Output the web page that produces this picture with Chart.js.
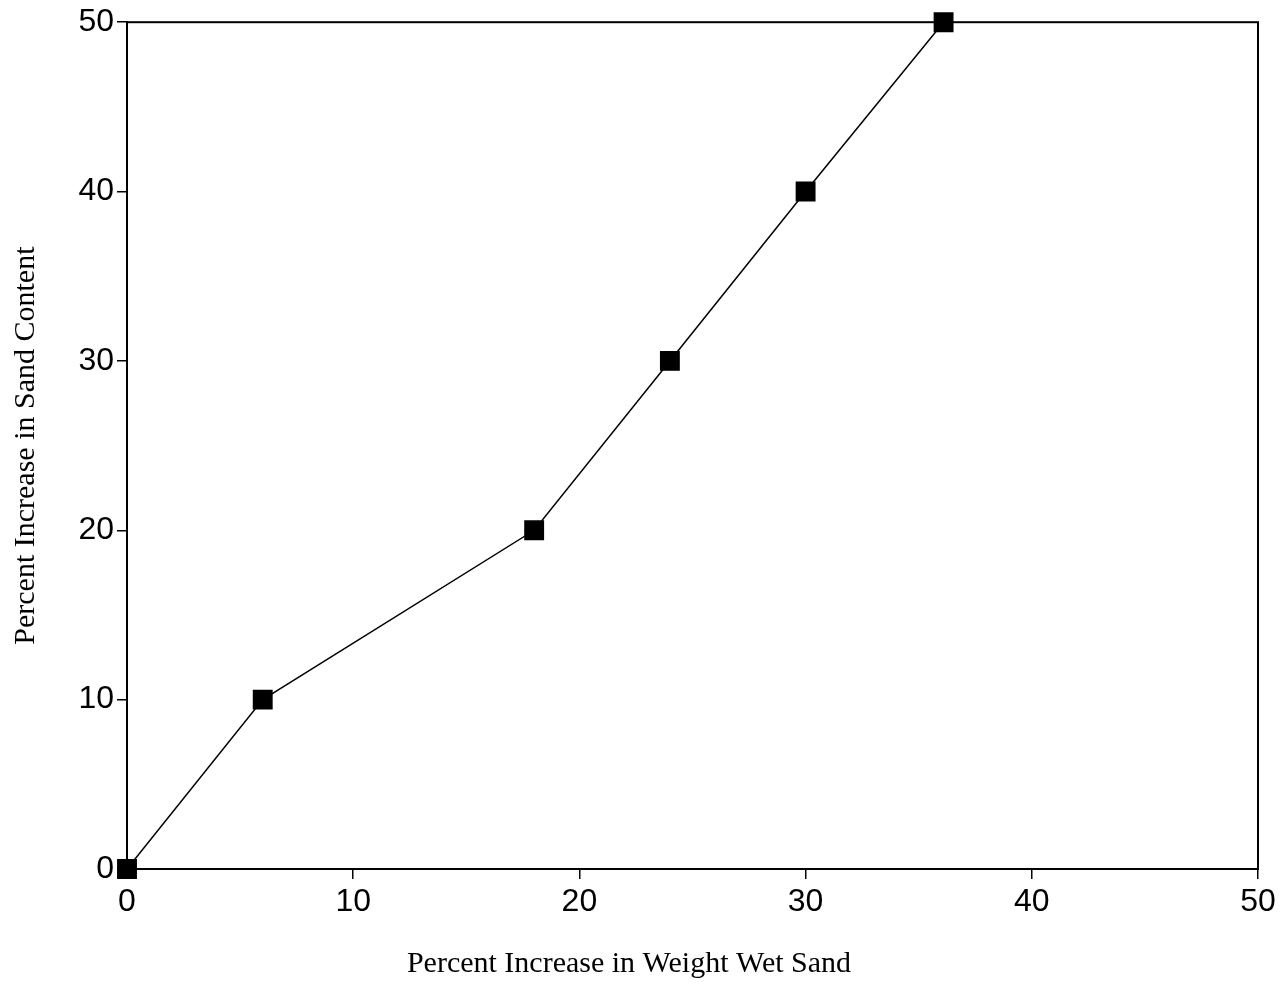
<!DOCTYPE html>
<html>
<head>
<meta charset="utf-8">
<script src="https://cdn.jsdelivr.net/npm/chart.js@4"></script>
<style>
  html, body { margin: 0; padding: 0; background: #fff; }
  #wrap { width: 1287px; height: 992px; }
</style>
</head>
<body>
<div id="wrap"><canvas id="sandChart"></canvas></div>
<script>
// ------ DATA ------
const weightWetSand = [0, 6, 18, 24, 30, 36.1];   // x, %
const sandContent   = [0, 10, 20, 30, 40, 50];    // y, %
const xTicks = [0, 10, 20, 30, 40, 50];
const yTicks = [0, 10, 20, 30, 40, 50];

const TICK_FONT  = { family: "'Liberation Sans', Arial, sans-serif", size: 32 };
const TITLE_FONT = { family: "'Liberation Serif', 'Times New Roman', serif", size: 30, weight: 'normal' };

// kotak penuh di sekitar area plot
const frameBox = {
  id: 'frameBox',
  afterDraw(chart) {
    const { ctx, chartArea: a } = chart;
    ctx.save();
    ctx.strokeStyle = '#000';
    ctx.lineWidth = 2;
    ctx.strokeRect(a.left, a.top, a.right - a.left, a.bottom - a.top);
    ctx.restore();
  }
};

new Chart(document.getElementById('sandChart'), {
  type: 'scatter',
  data: {
    datasets: [{
      data: weightWetSand.map((x, i) => ({ x, y: sandContent[i] })),
      showLine: true,
      borderColor: '#000',
      borderWidth: 1.5,
      backgroundColor: '#000',
      pointStyle: 'rect',
      pointRadius: 13,
      pointHoverRadius: 13,
      clip: false
    }]
  },
  options: {
    responsive: true,
    maintainAspectRatio: false,
    animation: false,
    layout: { padding: { top: 22, right: 29, left: 0, bottom: 0 } },
    plugins: {
      legend: { display: false },
      tooltip: { enabled: false },
      title: {
        display: true,
        position: 'bottom',
        text: 'Percent Increase in Weight Wet Sand',
        color: '#000',
        font: TITLE_FONT,
        padding: { top: 0, bottom: 10 }
      }
    },
    scales: {
      x: {
        type: 'linear',
        min: 0, max: 50,
        afterBuildTicks: s => { s.ticks = xTicks.map(v => ({ value: v })); },
        afterFit: s => { s.height = 77; },
        grid: { drawOnChartArea: false, drawTicks: true, tickLength: 10, color: '#000', lineWidth: 1.5 },
        border: { color: '#000', width: 2 },
        ticks: { color: '#000', font: TICK_FONT, padding: 4, maxRotation: 0 }
      },
      y: {
        type: 'linear',
        min: 0, max: 50,
        afterBuildTicks: s => { s.ticks = yTicks.map(v => ({ value: v })); },
        afterFit: s => { s.width = 127; },
        grid: { drawOnChartArea: false, drawTicks: true, tickLength: 10, color: '#000', lineWidth: 1.5 },
        border: { color: '#000', width: 2 },
        ticks: { color: '#000', font: TICK_FONT, padding: 3 },
        title: {
          display: true,
          text: 'Percent Increase in Sand Content',
          color: '#000',
          font: TITLE_FONT,
          padding: { top: 8, bottom: 0 }
        }
      }
    }
  },
  plugins: [frameBox]
});
</script>
</body>
</html>
